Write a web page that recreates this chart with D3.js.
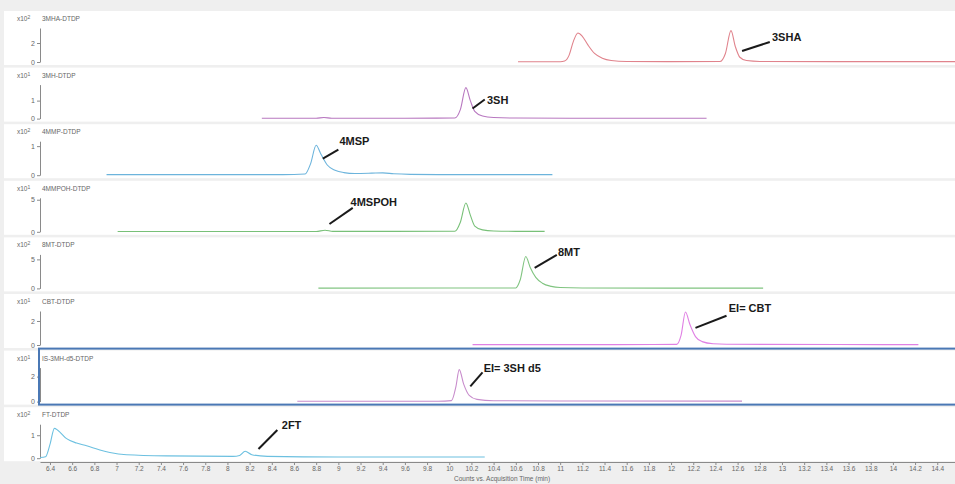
<!DOCTYPE html>
<html>
<head>
<meta charset="utf-8">
<script src="https://cdn.jsdelivr.net/npm/d3@7"></script>
<style>
  body { margin: 0; background: #efefef; }
  svg { display: block; font-family: "Liberation Sans", Arial, sans-serif; }
</style>
</head>
<body>
<div id="viz"></div>
<script>
// panel titles, exponent of the counts and y ticks
var titles = ["3MHA-DTDP", "3MH-DTDP", "4MMP-DTDP", "4MMPOH-DTDP", "8MT-DTDP", "CBT-DTDP", "IS-3MH-d5-DTDP", "FT-DTDP"]
var exponents = ["2", "1", "2", "1", "2", "1", "1", "2"]
var yTicks = [[0, 2], [0, 1], [0, 1], [0, 5], [0, 5], [0, 2], [0, 2], [0, 1]]
var yTop = [3.58, 1.89, 1.17, 5.3, 5.86, 2.83, 2.72, 1.48]
var colors = ["#e0838c", "#b878c0", "#6cb4dc", "#78c078", "#80c480", "#e080e4", "#c88ccc", "#6cc0e0"]

// traces, [time (min), counts]
var trace3MHA = [[10.62,0.02],[11.0,0.03],[11.04,0.1],[11.08,0.7],[11.12,2.2],[11.16,3.05],[11.2,2.7],[11.25,1.8],[11.31,0.9],[11.38,0.4],[11.46,0.16],[11.6,0.06],[12.0,0.04],[12.44,0.05],[12.49,0.9],[12.54,3.3],[12.58,1.6],[12.62,0.5],[12.68,0.15],[12.8,0.06],[13.5,0.04],[14.56,0.04]]
var trace3MH = [[8.31,0.02],[8.8,0.02],[8.87,0.06],[8.94,0.02],[9.6,0.02],[10.05,0.03],[10.1,0.5],[10.15,1.72],[10.19,1.0],[10.23,0.4],[10.3,0.14],[10.4,0.06],[10.6,0.03],[11.5,0.02],[12.32,0.02]]
var trace4MMP = [[6.91,0.02],[8.5,0.02],[8.7,0.04],[8.75,0.4],[8.8,1.03],[8.84,0.75],[8.9,0.35],[8.97,0.17],[9.05,0.09],[9.15,0.06],[9.3,0.07],[9.4,0.08],[9.5,0.05],[9.65,0.03],[10.0,0.02],[10.93,0.02]]
var trace4MMPOH = [[7.01,0.05],[8.8,0.05],[8.88,0.25],[8.95,0.06],[10.05,0.08],[10.1,1.5],[10.15,4.5],[10.19,2.6],[10.23,0.9],[10.3,0.3],[10.4,0.12],[10.6,0.07],[10.86,0.06]]
var trace8MT = [[8.82,0.05],[10.0,0.06],[10.6,0.08],[10.64,1.5],[10.69,5.5],[10.73,3.6],[10.78,1.9],[10.84,0.9],[10.92,0.35],[11.0,0.15],[11.2,0.07],[12.0,0.05],[12.83,0.05]]
var traceCBT = [[10.21,0.03],[11.5,0.03],[12.05,0.05],[12.09,0.8],[12.13,2.75],[12.17,1.7],[12.22,0.7],[12.28,0.28],[12.38,0.1],[12.5,0.06],[13.5,0.04],[14.23,0.03]]
var traceIS = [[8.63,0.03],[9.9,0.03],[10.02,0.08],[10.06,1.2],[10.09,2.56],[10.13,1.4],[10.18,0.5],[10.25,0.18],[10.4,0.07],[11.0,0.05],[12.64,0.04]]
var traceFT = [[6.31,0.03],[6.36,0.06],[6.4,0.6],[6.44,1.3],[6.47,1.22],[6.55,0.85],[6.64,0.66],[6.73,0.54],[6.85,0.36],[6.94,0.25],[7.09,0.15],[7.45,0.1],[8.05,0.08],[8.11,0.12],[8.16,0.3],[8.22,0.15],[8.36,0.08],[9.0,0.05],[10.32,0.05]]
var traces = [trace3MHA, trace3MH, trace4MMP, trace4MMPOH, trace8MT, traceCBT, traceIS, traceFT]

// peak annotations: pointer from / to and label position, in [time, counts]
var annLabels = ["3SHA", "3SH", "4MSP", "4MSPOH", "8MT", "EI= CBT", "EI= 3SH d5", "2FT"]
var annFrom = [[12.64,1.16],[10.21,0.56],[8.86,0.57],[8.92,1.22],[10.77,3.52],[12.22,1.43],[10.19,1.22],[8.28,0.4]]
var annTo = [[12.89,2.11],[10.32,1.06],[9.0,0.88],[9.13,3.72],[10.97,5.76],[12.5,2.43],[10.3,2.34],[8.45,1.23]]
var annText = [[12.91,2.63],[10.34,1.0],[9.01,1.16],[9.11,4.66],[10.98,6.28],[12.52,3.1],[10.31,2.66],[8.49,1.44]]

var xTicks = [6.4,6.6,6.8,7,7.2,7.4,7.6,7.8,8,8.2,8.4,8.6,8.8,9,9.2,9.4,9.6,9.8,10,10.2,10.4,10.6,10.8,11,11.2,11.4,11.6,11.8,12,12.2,12.4,12.6,12.8,13,13.2,13.4,13.6,13.8,14,14.2,14.4]

var width = 955, height = 484
var pitch = 56.6, firstTop = 8, plotH = 34, base = 54
var selected = 6

var svg = d3.select("#viz")
            .append("svg")
              .attr("width", width)
              .attr("height", height)

svg.append("rect")
  .attr("width", width)
  .attr("height", height)
  .attr("fill", "#efefef")

var xScale = d3.scaleLinear()
                .domain([6.31, 14.56])
                .range([40, 955])

var line = d3.line().curve(d3.curveMonotoneX)

titles.forEach(function (title, i) {
  var g = svg.append("g")
             .attr("transform", "translate(0," + (firstTop + i * pitch) + ")")

  var yScale = d3.scaleLinear()
                  .domain([0, yTop[i]])
                  .range([base, base - plotH])

  // white panel
  g.append("rect")
    .attr("x", 4)
    .attr("y", 3)
    .attr("width", width - 4)
    .attr("height", 54)
    .attr("fill", "#ffffff")

  // y axis
  var ax = g.append("g")
    .attr("transform", "translate(40,0)")
    .call(d3.axisLeft(yScale).tickValues(yTicks[i]).tickSize(3).tickSizeOuter(0).tickPadding(2)
            .tickFormat(d3.format("d")))
  ax.selectAll("path, line").attr("stroke", "#8a8a8a")
  ax.selectAll("text").attr("fill", "#666").style("font-size", "7px")

  // exponent and title
  var ex = g.append("text")
    .attr("x", 17)
    .attr("y", 13)
    .attr("fill", "#666")
    .style("font-size", "6.5px")
  ex.append("tspan").text("x10")
  ex.append("tspan").attr("dy", -2).style("font-size", "5px").text(exponents[i])

  g.append("text")
    .attr("x", 42)
    .attr("y", 13)
    .attr("fill", "#666")
    .style("font-size", "6.5px")
    .text(title)

  // trace
  g.append("path")
    .attr("d", line(traces[i].map(function (d) { return [xScale(d[0]), yScale(d[1])] })))
    .attr("fill", "none")
    .attr("stroke", colors[i])
    .attr("stroke-width", 1.1)

  // annotation
  g.append("line")
    .attr("x1", xScale(annFrom[i][0]))
    .attr("y1", yScale(annFrom[i][1]))
    .attr("x2", xScale(annTo[i][0]))
    .attr("y2", yScale(annTo[i][1]))
    .attr("stroke", "#1a1a1a")
    .attr("stroke-width", 2)

  g.append("text")
    .attr("x", xScale(annText[i][0]))
    .attr("y", yScale(annText[i][1]))
    .attr("dy", "0.35em")
    .attr("fill", "#1a1a1a")
    .style("font-size", "11px")
    .style("font-weight", "bold")
    .text(annLabels[i])

  // selected panel border
  if (i == selected) {
    g.append("rect")
      .attr("x", 39)
      .attr("y", 1)
      .attr("width", width)
      .attr("height", 56)
      .attr("fill", "none")
      .attr("stroke", "#4a78b5")
      .attr("stroke-width", 2)
  }
})

// x axis
var xa = svg.append("g")
  .attr("transform", "translate(0,462)")
  .call(d3.axisBottom(xScale).tickValues(xTicks).tickSize(3).tickSizeOuter(0).tickPadding(1)
          .tickFormat(function (d) { return String(+d.toFixed(1)) }))
xa.selectAll("path, line").attr("stroke", "#8a8a8a")
xa.selectAll("text").attr("fill", "#666").style("font-size", "6.5px")

svg.append("text")
  .attr("x", 502)
  .attr("y", 481)
  .attr("text-anchor", "middle")
  .attr("fill", "#666")
  .style("font-size", "6.5px")
  .text("Counts vs. Acquisition Time (min)")
</script>
</body>
</html>
